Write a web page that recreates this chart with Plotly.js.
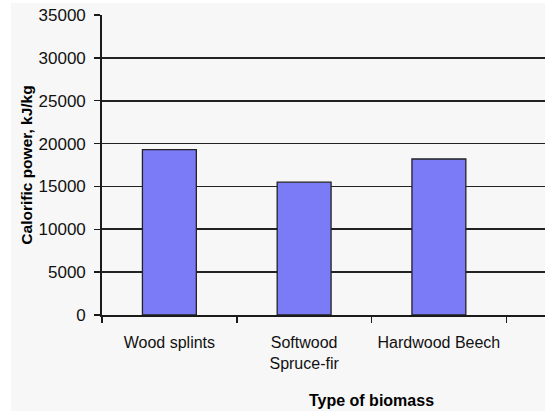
<!DOCTYPE html>
<html>
<head>
<meta charset="utf-8">
<script src="https://cdn.plot.ly/plotly-3.0.1.min.js"></script>
<style>
  html, body { margin: 0; padding: 0; background: #ffffff; overflow: hidden; width: 545px; height: 411px; }
  #chart { position: absolute; left: 11px; top: 3px; }
</style>
</head>
<body>
<div id="chart"></div>
<script>
// Data
const categories = ["Wood splints", "Softwood<br>Spruce-fir", "Hardwood Beech", " "];
const calorificPower = [19300, 15500, 18200, null];
const yTickValues = [0, 5000, 10000, 15000, 20000, 25000, 30000, 35000];
const yTickLabels = ["0", "5000", "10000", "15000", "20000", "25000", "30000", "35000"];

const trace = {
  type: "bar",
  x: categories,
  y: calorificPower,
  width: 0.4,
  marker: { color: "#7b7bf7", line: { color: "#222222", width: 1.3 } },
  hoverinfo: "x+y"
};

const layout = {
  width: 660,
  height: 408,
  margin: { l: 91, r: 30, t: 12, b: 96 },
  paper_bgcolor: "#f7f7f7",
  plot_bgcolor: "#f7f7f7",
  showlegend: false,
  font: { family: "Liberation Sans, Arial, sans-serif", size: 17, color: "#111111" },
  xaxis: {
    type: "category",
    range: [-0.5, 3.5],
    showgrid: false,
    showline: true,
    linecolor: "#1a1a1a",
    linewidth: 1.8,
    ticks: "outside",
    tickson: "boundaries",
    ticklen: 6,
    tickcolor: "#1a1a1a",
    tickwidth: 1.5,
    tickangle: 0,
    ticklabelstandoff: 12,
    tickfont: { size: 16, color: "#111111" },
    title: { text: "Type of biomass", font: { size: 16, color: "#000000", family: "Liberation Sans, Arial, sans-serif", weight: "bold" }, standoff: 24 },
    fixedrange: true
  },
  yaxis: {
    range: [0, 35000],
    tickvals: yTickValues,
    ticktext: yTickLabels,
    showgrid: true,
    gridcolor: "#222222",
    gridwidth: 1.6,
    showline: true,
    linecolor: "#1a1a1a",
    linewidth: 1.8,
    zeroline: false,
    ticks: "outside",
    ticklen: 6,
    tickcolor: "#1a1a1a",
    tickwidth: 1.5,
    ticklabelstandoff: 5,
    tickfont: { size: 17, color: "#111111" },
    title: { text: "Calorific power, kJ/kg", font: { size: 15.5, color: "#000000", family: "Liberation Sans, Arial, sans-serif", weight: "bold" }, standoff: 2 },
    fixedrange: true
  }
};

Plotly.newPlot("chart", [trace], layout, { displayModeBar: false, staticPlot: true });
</script>
</body>
</html>
